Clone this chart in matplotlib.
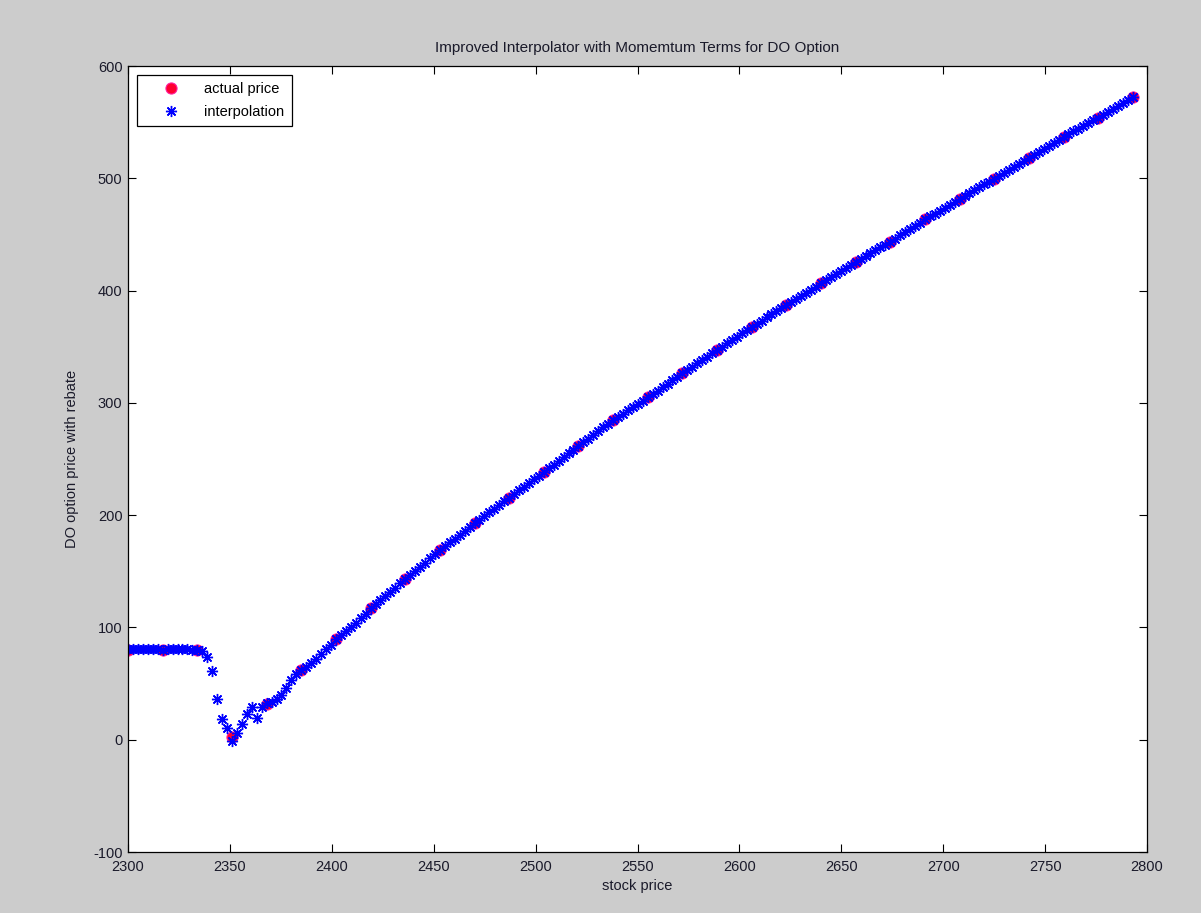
import numpy as np
import matplotlib
matplotlib.use("Agg")
import matplotlib.pyplot as plt

plt.rcParams['font.family'] = ['Liberation Sans', 'DejaVu Sans']
plt.rcParams['axes.unicode_minus'] = False

# Grid nodes where the option was actually priced
stock_nodes = [2300, 2317, 2334, 2351, 2368, 2385, 2402, 2419, 2436, 2453,
               2470, 2487, 2504, 2521, 2538, 2555, 2572, 2589, 2606, 2623,
               2640, 2657, 2674, 2691, 2708, 2725, 2742, 2759, 2776, 2793]
actual_price = [80.0, 80.0, 80.0, 2.5, 32.0, 62.0, 89.7, 117.0, 142.8, 168.9,
                192.7, 215.7, 238.6, 261.5, 284.7, 304.9, 326.3, 347.0, 367.8, 387.1,
                406.4, 425.6, 443.5, 463.4, 481.5, 499.7, 518.3, 537.0, 553.9, 572.6]

# Interpolated prices, seven sub-steps per node interval
interp_price = [
    80.5, 80.8, 81.0, 80.9, 80.8, 80.6, 80.5,
    80.3, 80.5, 80.6, 80.6, 80.5, 80.4, 80.3,
    80.2, 79.3, 73.4, 61.4, 36.2, 18.2, 10.7,
    -0.9, 6.2, 14.0, 22.6, 28.8, 19.0, 28.8,
    32.4, 33.8, 36.0, 39.8, 46.3, 53.6, 58.5,
    62.0, 65.0, 68.0, 72.0, 76.5, 81.0, 84.0,
    89.7, 93.2, 97.1, 100.6, 104.2, 108.1, 111.9,
    117.0, 121.0, 124.5, 128.0, 131.5, 135.5, 139.2,
    142.8, 146.5, 150.3, 154.0, 157.7, 161.5, 165.2,
    168.9, 172.3, 175.7, 179.1, 182.5, 185.9, 189.3,
    192.7, 196.0, 199.3, 202.6, 205.9, 209.1, 212.4,
    215.7, 219.0, 222.2, 225.5, 228.8, 232.1, 235.3,
    238.6, 241.9, 245.1, 248.4, 251.7, 255.0, 258.2,
    261.5, 264.8, 268.1, 271.4, 274.8, 278.1, 281.4,
    284.7, 287.6, 290.5, 293.4, 296.2, 299.1, 302.0,
    304.9, 308.0, 311.0, 314.1, 317.1, 320.2, 323.2,
    326.3, 329.3, 332.2, 335.2, 338.1, 341.1, 344.0,
    347.0, 350.0, 352.9, 355.9, 358.9, 361.9, 364.8,
    367.8, 370.6, 373.3, 376.1, 378.8, 381.6, 384.3,
    387.1, 389.9, 392.6, 395.4, 398.1, 400.9, 403.6,
    406.4, 409.1, 411.9, 414.6, 417.4, 420.1, 422.9,
    425.6, 428.2, 430.7, 433.3, 435.8, 438.4, 440.9,
    443.5, 446.3, 449.2, 452.0, 454.9, 457.7, 460.6,
    463.4, 466.0, 468.6, 471.2, 473.7, 476.3, 478.9,
    481.5, 484.1, 486.7, 489.3, 491.9, 494.5, 497.1,
    499.7, 502.4, 505.0, 507.7, 510.3, 513.0, 515.6,
    518.3, 521.0, 523.6, 526.3, 529.0, 531.7, 534.3,
    537.0, 539.4, 541.8, 544.2, 546.7, 549.1, 551.5,
    553.9, 556.6, 559.2, 561.9, 564.6, 567.3, 569.9,
    572.6,
]
interp_stock = np.linspace(stock_nodes[0], stock_nodes[-1], len(interp_price))

x_ticks = [2300, 2350, 2400, 2450, 2500, 2550, 2600, 2650, 2700, 2750, 2800]
y_ticks = [-100, 0, 100, 200, 300, 400, 500, 600]

fig = plt.figure(figsize=(12.01, 9.13), dpi=100, facecolor='#cccccc')
ax = fig.add_axes([0.1066, 0.0668, 0.8485, 0.8609])

ax.plot(stock_nodes, actual_price, linestyle='none', marker='o', markersize=8,
        markerfacecolor='#ff0030', markeredgecolor='#ff20a0', markeredgewidth=0.8,
        label='actual price')
ax.plot(interp_stock, interp_price, linestyle='none', marker=(8, 2, 0), markersize=8,
        color='#0000ff', markeredgewidth=1.0, label='interpolation')

ax.set_xlim(2300, 2800)
ax.set_ylim(-100, 600)
ax.set_xticks(x_ticks)
ax.set_yticks(y_ticks)
ax.tick_params(direction='in', length=6, width=0.8, top=True, right=True,
               labelsize=10.5, labelcolor='#1a1a2a')
ax.tick_params(axis='x', pad=6)
ax.tick_params(axis='y', pad=4)
for spine in ax.spines.values():
    spine.set_linewidth(0.9)

ax.set_title('Improved Interpolator with Momemtum Terms for DO Option',
             fontsize=11, pad=10, color='#1a1a2a')
ax.set_xlabel('stock price', fontsize=10.5, labelpad=3, color='#1a1a2a')
ax.set_ylabel('DO option price with rebate', fontsize=10.5, labelpad=10, color='#1a1a2a')

legend = ax.legend(loc='upper left', bbox_to_anchor=(0.009, 0.989), fontsize=10.5,
                   fancybox=False, framealpha=1, edgecolor='black',
                   handlelength=3.6, handletextpad=0.5, borderpad=0.5,
                   labelspacing=0.6, borderaxespad=0)
legend.get_frame().set_linewidth(0.9)

fig.savefig('out.png', dpi=100, facecolor=fig.get_facecolor())
